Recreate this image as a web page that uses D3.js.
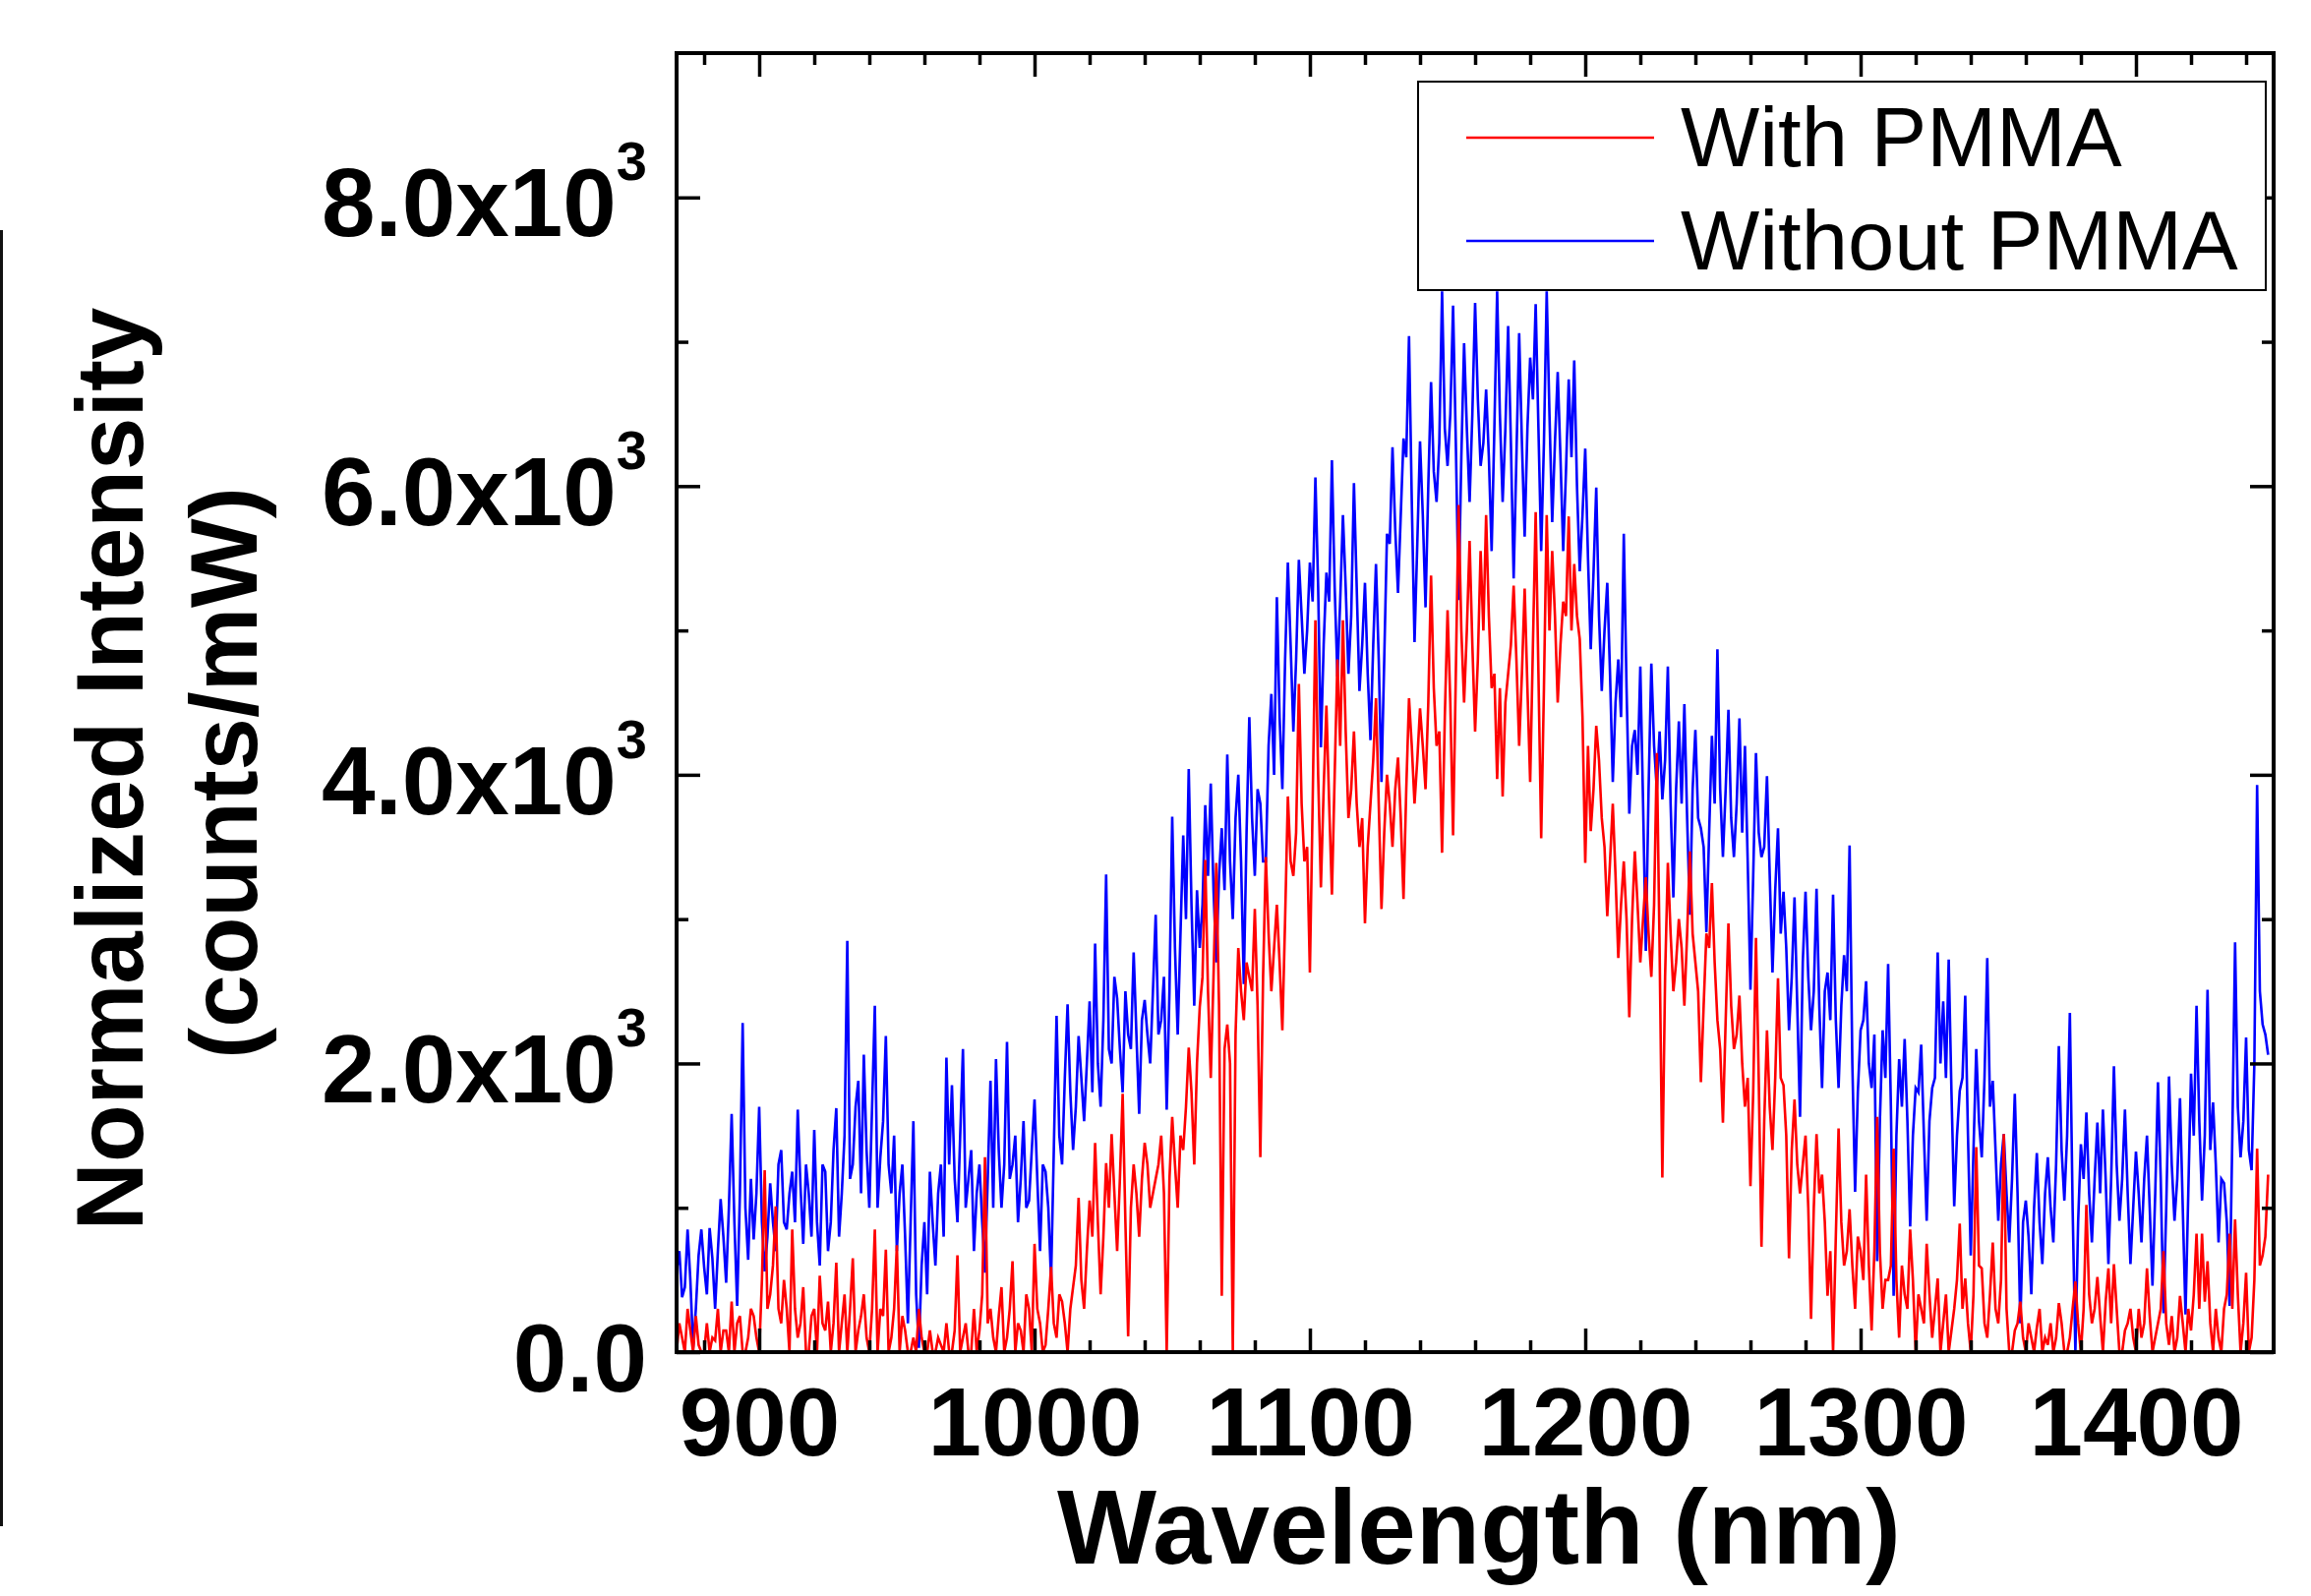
<!DOCTYPE html>
<html>
<head>
<meta charset="utf-8">
<title>Normalized Intensity vs Wavelength</title>
<script src="https://d3js.org/d3.v7.min.js"></script>
<style>
  body { margin: 0; background: #fff; }
  text { font-family: "Liberation Sans", Arial, sans-serif; }
</style>
</head>
<body>
<div id="chart"></div>
<script>
// spectra sampled every 1 nm from 870 nm
var wlStart = 870, wlStep = 1;

var withoutPMMA = [
  560,700,380,450,850,500,30,300,670,850,590,400,860,650,300,700,1060,800,480,1000,
  1650,900,320,1100,2280,1000,640,1200,780,1100,1700,900,560,800,1170,900,700,1300,1400,900,
  850,1100,1250,900,1680,1150,750,1300,1100,800,1540,900,600,1300,1250,700,900,1400,1690,800,
  1100,1500,2850,1200,1300,1700,1880,1100,2060,1400,1000,1700,2400,1000,1350,1600,2190,1300,1100,1500,
  700,1100,1300,800,200,900,1600,400,30,600,900,400,1250,900,600,1100,1300,800,2040,1300,
  1850,1200,900,1500,2100,1000,1200,1400,700,1100,1300,900,550,1200,1880,1000,2030,1400,1000,1300,
  2150,1200,1300,1500,900,1200,1600,1000,1050,1400,1750,1200,700,1300,1250,1000,500,1400,2330,1500,
  1300,1900,2410,1800,1400,1700,2190,1900,1600,2000,2430,1800,2830,2000,1700,2300,3310,2100,2000,2600,
  2450,2100,1800,2500,2200,2100,2770,2200,1650,2300,2440,2200,2000,2500,3030,2200,2300,2600,1680,2500,
  3710,2800,2200,2900,3580,3000,4040,3100,2400,3200,2800,3100,3790,3300,3940,3200,2700,3300,3630,3200,
  4140,3400,3000,3700,4000,3400,2550,3600,4400,3700,3300,3900,3800,3400,3400,4200,4560,4000,5230,4400,
  3900,4800,5470,4900,4300,4800,5490,5100,4700,5000,5470,5200,6060,5300,4190,4900,5400,5200,6180,5300,
  4680,5200,5800,5300,4700,5100,6020,5300,4580,4900,5330,4700,4240,4900,5460,4800,3950,4800,5670,5600,
  6270,5700,5260,5800,6330,6200,7040,5900,4920,5600,6310,5800,5160,6000,6720,6100,5890,6300,7350,6400,
  6140,6500,7250,6300,5210,6200,6990,6400,5890,6500,7270,6600,6140,6300,6670,6200,5550,6400,7350,6500,
  5890,6400,7110,6300,5360,6200,7060,6300,5650,6400,6890,6600,7260,6400,5550,6300,7350,6500,5750,6300,
  6790,6200,5550,6100,6740,6200,6870,6000,5410,5800,6260,5500,4870,5400,5990,5100,4580,5000,5330,4700,
  3950,4500,4800,4400,5670,4600,3730,4200,4310,4000,4750,3800,2780,3900,4770,4200,3900,4300,3830,4100,
  4750,3800,3150,3900,4370,3800,4490,3700,3030,3900,4310,3700,3630,3500,2910,3600,4270,3800,4870,3900,
  3430,3900,4450,3700,3430,3800,4390,3600,4200,3400,2510,3300,4150,3600,3430,3500,3990,3300,2630,3200,
  3630,2900,3190,2800,2230,2600,3150,2400,1630,2700,3190,2600,2230,2500,3210,2400,1830,2500,2630,2300,
  3170,2300,1830,2400,2750,2500,3510,2000,1110,1800,2230,2300,2570,2000,1830,2200,630,1600,2230,1900,
  2690,1700,390,1500,2030,1700,2170,1600,870,1500,1830,1800,2130,1500,910,1600,1830,1900,2770,2000,
  2430,1900,2720,1800,1010,1500,1810,1900,2470,1500,670,1400,2100,1600,1350,1900,2730,1700,1880,1400,
  910,1300,1510,1100,760,1200,1790,1100,200,900,1050,800,400,1000,1380,900,610,1100,1350,1000,
  760,1300,2120,1400,1050,1500,2350,1000,0,900,1440,1200,1660,1100,760,1200,1590,1100,1680,1200,
  610,1200,1980,1300,910,1200,1680,1100,610,1000,1390,1100,760,1200,1500,1000,460,1100,1870,1200,
  270,1000,1910,1300,910,1200,1760,1000,260,1100,1930,1500,2400,1600,1050,1500,2510,1400,1730,1300,
  760,1200,1170,900,320,1500,2840,1700,1350,1600,2180,1400,1260,2000,3930,2500,2270,2200,2060
];

var withPMMA = [
  0,200,100,0,300,150,0,250,50,0,0,200,0,100,80,300,0,150,150,0,
  350,0,200,250,0,0,100,300,250,100,0,500,1260,300,400,600,1010,300,200,500,
  300,0,850,300,100,200,450,0,0,250,300,0,530,200,150,350,0,200,620,0,
  200,400,0,300,650,0,150,250,400,100,0,300,850,0,300,250,710,0,100,300,
  740,0,250,150,0,0,100,0,300,100,0,0,150,0,0,100,50,0,200,0,
  0,150,670,0,100,200,0,0,300,0,150,400,1350,200,300,100,0,250,450,0,
  100,300,630,0,200,150,0,400,300,0,750,300,200,0,50,300,590,200,100,400,
  350,200,0,300,450,600,1070,500,300,700,1050,800,1450,900,400,800,1310,1000,1510,1100,
  700,1200,1790,900,110,1000,1300,1100,800,1200,1450,1300,1000,1100,1200,1300,1500,1100,0,1200,
  1630,1300,1000,1500,1400,1700,2110,1800,1300,2000,2390,2600,3410,2500,1900,2600,3390,2400,390,2100,
  2270,2000,0,2200,2800,2500,2300,2700,2600,2500,3070,2400,1350,2600,3430,2900,2500,2800,3100,2700,
  2230,3000,3850,3400,3300,3600,4630,3800,3400,3500,2630,3800,5070,4000,3220,3900,4480,3800,3170,4000,
  4800,4200,5070,4300,3700,3900,4300,3800,3500,3700,2970,3500,3800,4100,4530,3800,3070,3600,4000,3800,
  3500,3900,4120,3700,3140,3900,4530,4200,3800,4100,4460,4200,3900,4500,5380,4600,4200,4300,3460,4400,
  5140,4500,3580,4700,5870,5000,4500,5000,5620,4900,4300,4800,5550,5000,5800,5100,4600,4700,3970,4600,
  3850,4500,4700,4900,5310,4800,4200,4700,5290,4600,3950,4900,5820,4700,3560,4600,5800,5000,5550,5100,
  4500,4900,5200,5100,5790,5000,5460,5100,4940,4400,3390,4200,3610,3900,4340,4100,3700,3500,3020,3400,
  3800,3300,2730,3100,3400,3000,2320,3000,3470,3100,2700,3000,3290,2900,2600,3100,4150,2800,1210,2600,
  3390,2900,2500,2700,3000,2800,2400,2900,3470,2900,2700,2500,1870,2400,2900,2800,3250,2700,2300,2100,
  1590,2300,2970,2400,2100,2200,2470,2000,1700,1900,1150,1800,2870,1900,730,1600,2230,1700,1400,1900,
  2590,1900,1850,1500,650,1400,1750,1300,1100,1300,1500,1000,230,1000,1510,1100,1230,900,390,700,
  0,800,1550,900,600,700,990,600,300,800,700,500,1230,600,150,700,1630,700,300,500,
  500,600,1410,500,100,600,400,300,850,500,0,400,300,200,750,400,100,300,510,0,
  200,400,0,150,300,500,890,300,510,200,0,400,1420,600,580,200,100,400,760,300,
  200,500,1510,300,0,0,150,200,350,100,0,200,100,0,170,300,0,100,50,200,
  0,100,340,200,0,0,100,300,490,200,0,300,1020,400,200,300,520,250,0,350,
  580,200,610,300,0,0,150,200,300,100,0,300,100,200,580,250,0,100,200,300,
  700,200,50,250,0,100,390,200,0,300,150,400,820,300,820,350,630,200,0,300,
  100,0,300,400,820,300,920,400,0,200,550,0,100,500,1410,600,670,800,1230
];

var xTicks = [900, 1000, 1100, 1200, 1300, 1400];
var yTicks = [0, 2000, 4000, 6000, 8000];
var yMantissa = ["0.0", "2.0", "4.0", "6.0", "8.0"];
var yExponent = "3";
var legendNames = ["With PMMA", "Without PMMA"];

var width = 2350, height = 1623;
var plot = {left: 688, right: 2312, top: 54, bottom: 1375};

var svg = d3.select("#chart").append("svg")
    .attr("width", width)
    .attr("height", height);

svg.append("rect").attr("width", width).attr("height", height).attr("fill", "#fff");

var x = d3.scaleLinear().domain([870, 1450]).range([plot.left, plot.right]);
var y = d3.scaleLinear().domain([0, 9000]).range([plot.bottom, plot.top]);

svg.append("clipPath").attr("id", "clip").append("rect")
    .attr("x", plot.left).attr("y", plot.top)
    .attr("width", plot.right - plot.left)
    .attr("height", plot.bottom - plot.top);

var line = d3.line()
    .x(function(d, i) { return x(wlStart + i * wlStep); })
    .y(function(d) { return y(d); });

var series = [
  {name: legendNames[1], values: withoutPMMA, color: "#0000ff"},
  {name: legendNames[0], values: withPMMA, color: "#ff0000"}
];

svg.append("g").attr("clip-path", "url(#clip)")
  .selectAll("path").data(series).enter()
  .append("path")
    .attr("d", function(d) { return line(d.values); })
    .attr("fill", "none")
    .attr("stroke", function(d) { return d.color; })
    .attr("stroke-width", 2.6);

// axes: majors long inward ticks, minors short
var xMinor = d3.range(880, 1450, 20).filter(function(d) { return d % 100 !== 0; });
var yMinor = [1000, 3000, 5000, 7000];

function addAxis(axisFn, scale, vals, size, pad, transform) {
  var g = svg.append("g")
      .attr("transform", transform)
      .call(axisFn(scale).tickValues(vals).tickSizeInner(size).tickSizeOuter(0)
        .tickPadding(pad).tickFormat(function() { return ""; }));
  g.select(".domain").remove();
  g.selectAll(".tick line").attr("stroke", "#000").attr("stroke-width", 3.5);
  return g;
}

var gBottom = addAxis(d3.axisBottom, x, xTicks, -24, 35, "translate(0," + plot.bottom + ")");
addAxis(d3.axisBottom, x, xMinor, -12, 0, "translate(0," + plot.bottom + ")");
addAxis(d3.axisTop, x, xTicks, -24, 0, "translate(0," + plot.top + ")");
addAxis(d3.axisTop, x, xMinor, -12, 0, "translate(0," + plot.top + ")");
var gLeft = addAxis(d3.axisLeft, y, yTicks, -24, 30, "translate(" + plot.left + ",0)");
addAxis(d3.axisLeft, y, yMinor, -12, 0, "translate(" + plot.left + ",0)");
addAxis(d3.axisRight, y, yTicks, -24, 0, "translate(" + plot.right + ",0)");
addAxis(d3.axisRight, y, yMinor, -12, 0, "translate(" + plot.right + ",0)");

gBottom.selectAll(".tick text")
    .text(function(d) { return d; })
    .attr("fill", "#000")
    .style("font-size", "98px")
    .style("font-weight", "bold");

gLeft.selectAll(".tick text")
    .attr("fill", "#000")
    .attr("dy", "0.4em")
    .style("font-size", "98px")
    .style("font-weight", "bold")
    .each(function(d, i) {
      var t = d3.select(this).text(yMantissa[i] + (d ? "x10" : ""));
      if (d) t.append("tspan").attr("dy", -57).style("font-size", "56px").text(yExponent);
    });

svg.append("rect")
    .attr("x", plot.left).attr("y", plot.top)
    .attr("width", plot.right - plot.left)
    .attr("height", plot.bottom - plot.top)
    .attr("fill", "none")
    .attr("stroke", "#000")
    .attr("stroke-width", 4);

// axis titles
svg.append("text")
    .attr("x", 1504).attr("y", 1590)
    .attr("text-anchor", "middle")
    .style("font-size", "107px")
    .style("font-weight", "bold")
    .text("Wavelength (nm)");

svg.append("text")
    .attr("transform", "translate(145,782) rotate(-90)")
    .attr("text-anchor", "middle")
    .style("font-size", "96px")
    .style("font-weight", "bold")
    .text("Normalized Intensity");

svg.append("text")
    .attr("transform", "translate(261,786) rotate(-90)")
    .attr("text-anchor", "middle")
    .style("font-size", "96px")
    .style("font-weight", "bold")
    .text("(counts/mW)");

// thin rule at the far left edge
svg.append("rect")
    .attr("x", 0).attr("y", 234)
    .attr("width", 3).attr("height", 1318)
    .attr("fill", "#111");

// legend
var legend = svg.append("g");
legend.append("rect")
    .attr("x", 1442).attr("y", 83)
    .attr("width", 862).attr("height", 212)
    .attr("fill", "#fff")
    .attr("stroke", "#000")
    .attr("stroke-width", 2);

var legendItems = legend.selectAll("g.item")
    .data([series[1], series[0]]).enter()
    .append("g").attr("class", "item")
    .attr("transform", function(d, i) { return "translate(0," + (i * 105) + ")"; });

legendItems.append("line")
    .attr("x1", 1491).attr("x2", 1682)
    .attr("y1", 140).attr("y2", 140)
    .attr("stroke", function(d) { return d.color; })
    .attr("stroke-width", 2.5);

legendItems.append("text")
    .attr("x", 1709).attr("y", 169)
    .style("font-size", "85px")
    .text(function(d) { return d.name; });
</script>
</body>
</html>
